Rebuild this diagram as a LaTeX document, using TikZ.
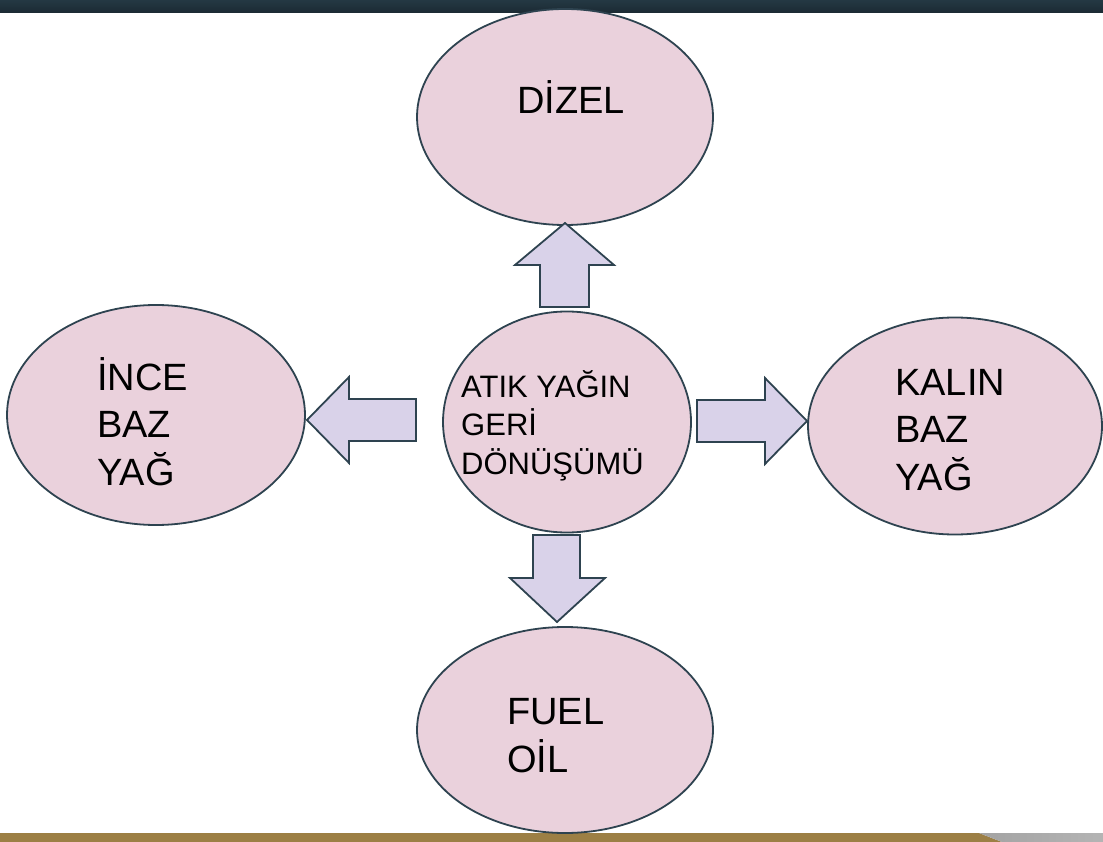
\documentclass[tikz,border=0pt]{standalone}
\usepackage{fontspec}
\setmainfont{Liberation Sans}
\usetikzlibrary{shapes.geometric}
\usetikzlibrary{positioning}
\usetikzlibrary{math}
\definecolor{bubble}{HTML}{EAD1DC}
\definecolor{rim}{HTML}{2E4350}
\definecolor{lilac}{HTML}{D9D2E9}
\definecolor{barhi}{HTML}{243843}
\definecolor{barlo}{HTML}{1B2A33}
\definecolor{gold}{HTML}{9C7F45}
\definecolor{steel}{HTML}{A3A3A3}
\definecolor{steelhi}{HTML}{B4B4B4}
\tikzset{bubble/.style={ellipse, draw=rim, fill=bubble, line width=1.8pt, inner sep=0pt},
	bigtext/.style={align=left, inner sep=0pt, font=\fontsize{38}{47.5}\selectfont},
	midtext/.style={align=left, inner sep=0pt, font=\fontsize{31}{38.5}\selectfont},
	blockarrow/.style={draw=rim, fill=lilac, line width=1.8pt, line join=miter}}

\begin{document}
\begin{tikzpicture}[x=1pt,y=-1pt]
	\tikzmath{\W=1103; \H=842; \topH=13; \botY=833;
	\cx=567; \cy=422;}
	\useasboundingbox (0,0) rectangle (\W,\H);
	% frame bars
	\shade[top color=barhi, bottom color=barlo] (0,0) rectangle (\W,\topH);
	\fill[gold] (0,\botY) -- (979,\botY) -- (1002,\H) -- (0,\H) -- cycle;
	\shade[left color=steel, right color=steelhi] (979,\botY) -- (\W,\botY) -- (\W,\H) -- (1002,\H) -- cycle;

	\node (atik) [bubble, minimum width=248pt, minimum height=221pt] at (\cx,\cy) {};
	\node (dizel) [bubble, minimum width=296pt, minimum height=216pt] at (565,117) {};
	\node (ince) [bubble, minimum width=298pt, minimum height=220pt] at (156,415) {};
	\node (kalin) [bubble, minimum width=294pt, minimum height=217pt] at (955,426) {};
	\node (fuel) [bubble, minimum width=296pt, minimum height=206pt] at (565,730) {};

	% base = last line
	\node (atiktxt) [midtext, anchor=base west] at (461,474) {ATIK YAĞIN\\GERİ\\DÖNÜŞÜMÜ};
	\node (dizeltxt) [bigtext, anchor=base west] at (517,114) {DİZEL};
	\node (incetxt) [bigtext, anchor=base west] at (97,485) {İNCE\\BAZ\\YAĞ};
	\node (kalintxt) [bigtext, anchor=base west] at (895,490) {KALIN\\BAZ\\YAĞ};
	\node (fueltxt) [bigtext, anchor=base west] at (507,772) {FUEL\\OİL};

	% block arrows
	\filldraw[blockarrow] (565,223) -- (614,265) -- (589,265) -- (589,307) -- (540,307) -- (540,265) -- (515,265) -- cycle;
	\filldraw[blockarrow] (307,420) -- (349,377) -- (349,399) -- (416,399) -- (416,441) -- (349,441) -- (349,463) -- cycle;
	\filldraw[blockarrow] (807,421) -- (765,378) -- (765,400) -- (697,400) -- (697,442) -- (765,442) -- (765,464) -- cycle;
	\filldraw[blockarrow] (557,622) -- (605,578) -- (580,578) -- (580,535) -- (533,535) -- (533,578) -- (510,578) -- cycle;
\end{tikzpicture}
\end{document}
